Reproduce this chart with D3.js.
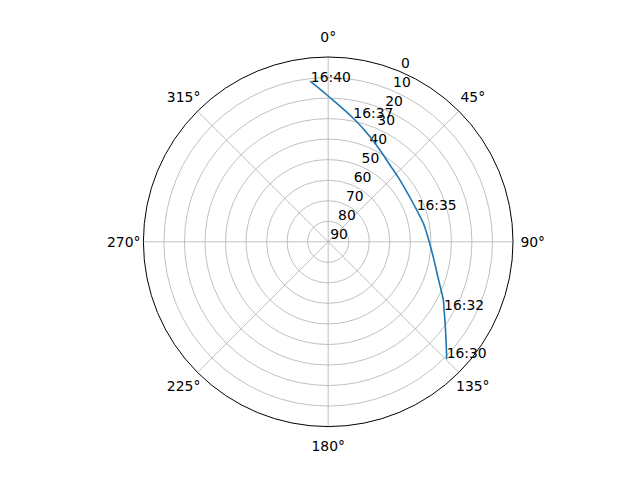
<!DOCTYPE html>
<html>
<head>
<meta charset="utf-8">
<script src="https://cdn.jsdelivr.net/npm/d3@7"></script>
<style>
  body { margin: 0; background: #fff; }
  text { font-family: "DejaVu Sans", sans-serif; font-size: 13.9px; fill: #000; }
</style>
</head>
<body>
<svg id="chart" width="640" height="480"></svg>
<script>
// pass of a satellite (16:30 -> 16:40)
const azimuth   = [134.5, 129.8, 123.8, 120.5, 116.8, 109.1, 99.8, 90.0, 79.0, 70.2, 49.3, 38.8, 29.4, 21.7, 11.5, 0.0, -6.2];
const elevation = [9.1, 15.3, 21.6, 24.5, 27.2, 33.1, 37.7, 40.8, 42.8, 44.2, 43.9, 42.0, 38.7, 34.9, 28.6, 19.0, 11.5];
const timeLabels = ["16:30", "", "", "16:32", "", "", "", "", "", "16:35", "", "", "", "", "16:37", "", "16:40"];

const thetaTicks = [0, 45, 90, 135, 180, 225, 270, 315];
const rTicks = [0, 10, 20, 30, 40, 50, 60, 70, 80, 90];

const cx = 328.2, cy = 241.8, R = 184.8;
const svg = d3.select("#chart");
const g = svg.append("g").attr("transform", `translate(${cx},${cy})`);

const r = d3.scaleLinear().domain([90, 0]).range([0, R]);
const rad = d => d * Math.PI / 180;

// grid circles
g.selectAll("circle.grid")
  .data(rTicks.filter(t => t > 0 && t < 90))
  .enter().append("circle")
  .attr("class", "grid")
  .attr("r", d => r(d))
  .attr("fill", "none")
  .attr("stroke", "#b0b0b0")
  .attr("stroke-width", 0.8);

// spokes
g.selectAll("line.spoke")
  .data(thetaTicks)
  .enter().append("line")
  .attr("x1", 0).attr("y1", 0)
  .attr("x2", d => R * Math.sin(rad(d)))
  .attr("y2", d => -R * Math.cos(rad(d)))
  .attr("stroke", "#b0b0b0")
  .attr("stroke-width", 0.8);

// outer spine
g.append("circle")
  .attr("r", R)
  .attr("fill", "none")
  .attr("stroke", "#000")
  .attr("stroke-width", 1);

// theta labels
const labR = R + 19.7;
g.selectAll("text.theta")
  .data(thetaTicks)
  .enter().append("text")
  .attr("text-anchor", "middle")
  .attr("x", d => labR * Math.sin(rad(d)))
  .attr("y", d => -labR * Math.cos(rad(d)) + 5)
  .text(d => d + "°");

// radial labels at 22.5°
const rlab = rad(22.5);
g.selectAll("text.rlab")
  .data(rTicks)
  .enter().append("text")
  .attr("x", d => r(d) * Math.sin(rlab) + 2)
  .attr("y", d => -r(d) * Math.cos(rlab) - 3)
  .text(d => d);

// track
const pts = azimuth.map((a, i) => ({ a: a, e: elevation[i], t: timeLabels[i] }));
const line = d3.lineRadial()
  .angle(d => rad(d.a))
  .radius(d => r(d.e))
  .curve(d3.curveCatmullRom);

g.append("path")
  .datum(pts)
  .attr("d", line)
  .attr("fill", "none")
  .attr("stroke", "#1f77b4")
  .attr("stroke-width", 1.6)
  .attr("stroke-linecap", "square");

g.selectAll("text.time")
  .data(pts.filter(d => d.t))
  .enter().append("text")
  .attr("x", d => r(d.e) * Math.sin(rad(d.a)))
  .attr("y", d => -r(d.e) * Math.cos(rad(d.a)))
  .text(d => d.t);
</script>
</body>
</html>
